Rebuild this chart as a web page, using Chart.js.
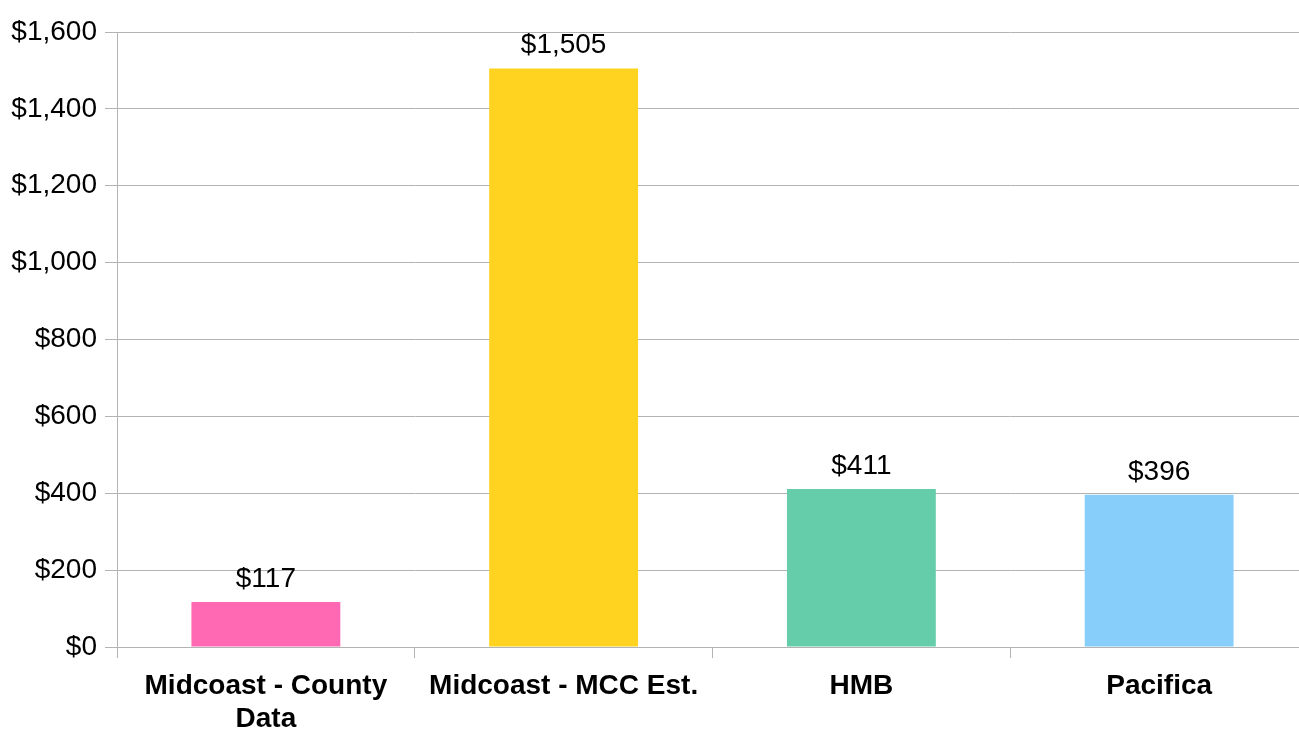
<!DOCTYPE html>
<html>
<head>
<title>Midcoast comparison</title>
<style>
  html, body { margin: 0; padding: 0; background: #fff; overflow: hidden; }
  #wrap { width: 1299px; height: 734px; overflow: hidden; }
</style>
</head>
<body>
<div id="wrap"><canvas id="costChart" width="1308" height="734"></canvas></div>
<script src="https://cdn.jsdelivr.net/npm/chart.js"></script>
<script>
const categories = [['Midcoast - County', 'Data'], 'Midcoast - MCC Est.', 'HMB', 'Pacifica'];
const values = [117, 1505, 411, 396];
const barColors = ['#ff69b4', '#ffd320', '#66cdaa', '#87cefa'];
const yTicks = [0, 200, 400, 600, 800, 1000, 1200, 1400, 1600];

function money(v) {
    return '$' + v.toLocaleString('en-US');
}

const valueLabels = {
    id: 'valueLabels',
    afterDatasetsDraw(chart) {
        const ctx = chart.ctx;
        ctx.save();
        ctx.font = '28px "Liberation Sans", Arial, sans-serif';
        ctx.fillStyle = '#000';
        ctx.textAlign = 'center';
        ctx.textBaseline = 'bottom';
        chart.getDatasetMeta(0).data.forEach((bar, i) => {
            ctx.fillText(money(values[i]), bar.x, bar.y - 9);
        });
        ctx.restore();
    }
};

Chart.defaults.font.family = '"Liberation Sans", Arial, sans-serif';
Chart.defaults.color = '#000';

new Chart(document.getElementById('costChart'), {
    type: 'bar',
    data: {
        labels: categories,
        datasets: [{
            data: values,
            backgroundColor: barColors,
            barPercentage: 0.5,
            categoryPercentage: 1
        }]
    },
    options: {
        responsive: false,
        animation: false,
        layout: { padding: { top: 32, right: 0, left: 0, bottom: 0 } },
        plugins: { legend: { display: false }, tooltip: { enabled: false } },
        scales: {
            x: {
                grid: { offset: true, drawOnChartArea: false, color: '#b3b3b3', tickLength: 11, lineWidth: 1 },
                border: { color: '#b3b3b3' },
                ticks: { font: { size: 28, weight: 'bold' }, color: '#000', padding: 11, maxRotation: 0, autoSkip: false },
                afterFit(axis) { axis.height = 87; }
            },
            y: {
                min: 0,
                max: 1600,
                afterBuildTicks(axis) { axis.ticks = yTicks.map(v => ({ value: v })); },
                grid: { color: '#b3b3b3', tickLength: 12 },
                border: { color: '#b3b3b3' },
                ticks: { font: { size: 28 }, color: '#000', padding: 8, callback: v => money(v) },
                afterFit(axis) { axis.width = 117; }
            }
        }
    },
    plugins: [valueLabels]
});
</script>
</body>
</html>
